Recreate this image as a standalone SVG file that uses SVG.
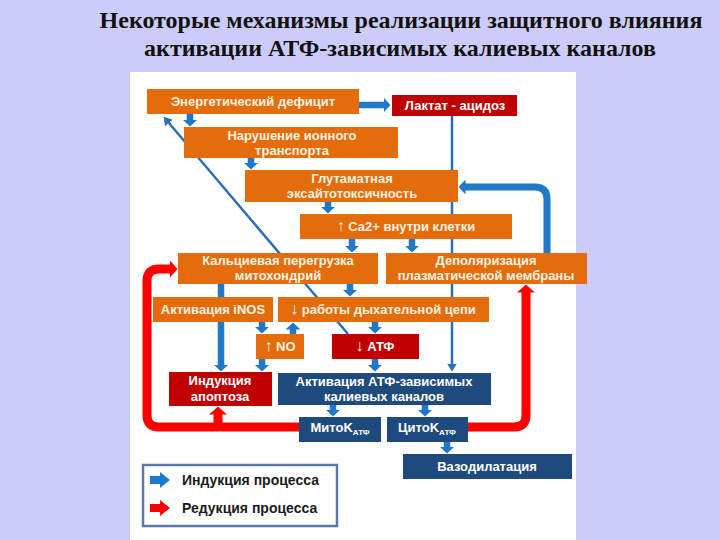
<svg xmlns="http://www.w3.org/2000/svg" width="720" height="540" viewBox="0 0 720 540">
<style>
.title{font-family:"Liberation Serif","Times New Roman",serif;font-weight:bold;font-size:24px;fill:#111;text-anchor:middle}
.t{font-family:"Liberation Sans",Arial,sans-serif;font-weight:bold;font-size:13px;text-anchor:middle}
.g{font-size:16px;font-weight:normal}
.to{fill:#FFF3E2}
.tw{fill:#FFFFFF}
.or{fill:#E46C0A}
.rd{fill:#C00000}
.bl{fill:#1F4A7E}
.ab{fill:none;stroke:#1F78C8;stroke-width:6.5}
.al{fill:none;stroke:#2A6FB5;stroke-width:2.5}
.ar{fill:none;stroke:#FF0000;stroke-width:9}
.lg{font-family:"Liberation Sans",Arial,sans-serif;font-weight:bold;font-size:14px;fill:#1a1a1a}
</style>
<defs>
<marker id="hb" markerUnits="userSpaceOnUse" viewBox="0 0 7 15" refX="0.5" refY="7.5" markerWidth="7" markerHeight="15" orient="auto"><path d="M0,0 L7,7.5 L0,15 Z" fill="#1F78C8"/></marker>
<marker id="hs" markerUnits="userSpaceOnUse" viewBox="0 0 8 10" refX="0.5" refY="5" markerWidth="8" markerHeight="10" orient="auto"><path d="M0,0 L8,5 L0,10 Z" fill="#2A6FB5"/></marker>
<marker id="hr" markerUnits="userSpaceOnUse" viewBox="0 0 8 18" refX="0.5" refY="9" markerWidth="8" markerHeight="18" orient="auto"><path d="M0,0 L8,9 L0,18 Z" fill="#FF0000"/></marker>
</defs>
<rect x="0" y="0" width="720" height="540" fill="#CCCCF8"/>
<rect x="130" y="72" width="446" height="468" fill="#FFFFFF"/>
<g id="title">
<text class="title" x="401" y="28">Некоторые механизмы реализации защитного влияния</text>
<text class="title" x="400" y="56">активации АТФ-зависимых калиевых каналов</text>
</g>
<g id="connectors">
<path class="al" d="M452 116 V364" marker-end="url(#hs)"/>
<path class="al" d="M348 334 L168.5 122.5" marker-end="url(#hs)"/>
<path class="ab" d="M221 284 V365" marker-end="url(#hb)"/>
<path class="ab" d="M359 105 H384" marker-end="url(#hb)"/>
<path class="ab" d="M190 114 V120" marker-end="url(#hb)"/>
<path class="ab" d="M251 158 V163" marker-end="url(#hb)"/>
<path class="ab" d="M328 202 V207" marker-end="url(#hb)"/>
<path class="ab" d="M352 239 V246" marker-end="url(#hb)"/>
<path class="ab" d="M412 239 V246" marker-end="url(#hb)"/>
<path class="ab" d="M350 284 V290" marker-end="url(#hb)"/>
<path class="ab" d="M262 322 V327" marker-end="url(#hb)"/>
<path class="ab" d="M293 334 V329" marker-end="url(#hb)"/>
<path class="ab" d="M375 322 V327" marker-end="url(#hb)"/>
<path class="ab" d="M375 359 V365" marker-end="url(#hb)"/>
<path class="ab" d="M262 359 V365" marker-end="url(#hb)"/>
<path class="ab" d="M333 405 V410" marker-end="url(#hb)"/>
<path class="ab" d="M425 405 V410" marker-end="url(#hb)"/>
<path class="ab" d="M447 442 V447" marker-end="url(#hb)"/>
<path class="ab" style="stroke-width:7" d="M547 253 V199 Q547 187 535 187 H465" marker-end="url(#hb)"/>
<path class="ar" d="M299 427 H159 Q147 427 147 415 V281 Q147 269 159 269 H170" marker-end="url(#hr)"/>
<path class="ar" d="M218 423 V414" marker-end="url(#hr)"/>
<path class="ar" d="M468 427 H514 Q526 427 526 415 V292" marker-end="url(#hr)"/>
</g>
<g id="n-energy"><rect class="or" x="147" y="89" width="212" height="25"/><text class="t to" x="253" y="106">Энергетический дефицит</text></g>
<g id="n-lactate"><rect class="rd" x="392" y="95" width="125" height="21"/><text class="t tw" x="455" y="110">Лактат - ацидоз</text></g>
<g id="n-ion"><rect class="or" x="184" y="127" width="214" height="31"/><text class="t to" x="292" y="140">Нарушение ионного</text><text class="t to" x="292" y="155">транспорта</text></g>
<g id="n-glut"><rect class="or" x="245" y="170" width="213" height="32"/><text class="t to" x="352" y="183">Глутаматная</text><text class="t to" x="352" y="198">эксайтотоксичность</text></g>
<g id="n-ca"><rect class="or" x="300" y="214" width="212" height="25"/><text class="t to" x="406" y="231"><tspan class="g">↑</tspan> Ca2+ внутри клетки</text></g>
<g id="n-mito"><rect class="or" x="178" y="253" width="200" height="31"/><text class="t to" x="278" y="265">Кальциевая перегрузка</text><text class="t to" x="278" y="280">митохондрий</text></g>
<g id="n-depol"><rect class="or" x="386" y="253" width="201" height="31"/><text class="t to" x="486" y="265">Деполяризация</text><text class="t to" x="486" y="280">плазматической мембраны</text></g>
<g id="n-inos"><rect class="or" x="153" y="297" width="120" height="25"/><text class="t to" x="213" y="314">Активация iNOS</text></g>
<g id="n-resp"><rect class="or" x="278" y="297" width="211" height="25"/><text class="t to" x="383" y="314"><tspan class="g">↓</tspan> работы дыхательной цепи</text></g>
<g id="n-no"><rect class="or" x="256" y="334" width="48" height="25"/><text class="t to" x="280" y="351"><tspan class="g">↑</tspan> NO</text></g>
<g id="n-atp"><rect class="rd" x="332" y="334" width="87" height="25"/><text class="t tw" x="375" y="351"><tspan class="g">↓</tspan> АТФ</text></g>
<g id="n-apopt"><rect class="rd" x="169" y="372" width="103" height="34"/><text class="t tw" x="220" y="385">Индукция</text><text class="t tw" x="220" y="401">апоптоза</text></g>
<g id="n-katp"><rect class="bl" x="278" y="373" width="213" height="32"/><text class="t tw" x="384" y="386">Активация АТФ-зависимых</text><text class="t tw" x="384" y="401">калиевых каналов</text></g>
<g id="n-mitok"><rect class="bl" x="299" y="417" width="82" height="25"/><text class="t tw" x="340" y="432">МитоK<tspan font-size="8" dy="3">АТФ</tspan></text></g>
<g id="n-citok"><rect class="bl" x="387" y="417" width="81" height="25"/><text class="t tw" x="427" y="432">ЦитоK<tspan font-size="8" dy="3">АТФ</tspan></text></g>
<g id="n-vaso"><rect class="bl" x="403" y="454" width="169" height="25"/><text class="t tw" x="487" y="471">Вазодилатация</text></g>
<g id="legend">
<rect x="143" y="465" width="194" height="61" fill="#FFFFFF" stroke="#5A78A8" stroke-width="2.5"/>
<polygon points="150,476 160,476 160,472 170,480 160,488 160,484 150,484" fill="#1F78C8"/>
<text class="lg" x="182" y="485">Индукция процесса</text>
<polygon points="150,504 160,504 160,500 170,508 160,516 160,512 150,512" fill="#FF0000"/>
<text class="lg" x="182" y="513">Редукция процесса</text>
</g>
</svg>
